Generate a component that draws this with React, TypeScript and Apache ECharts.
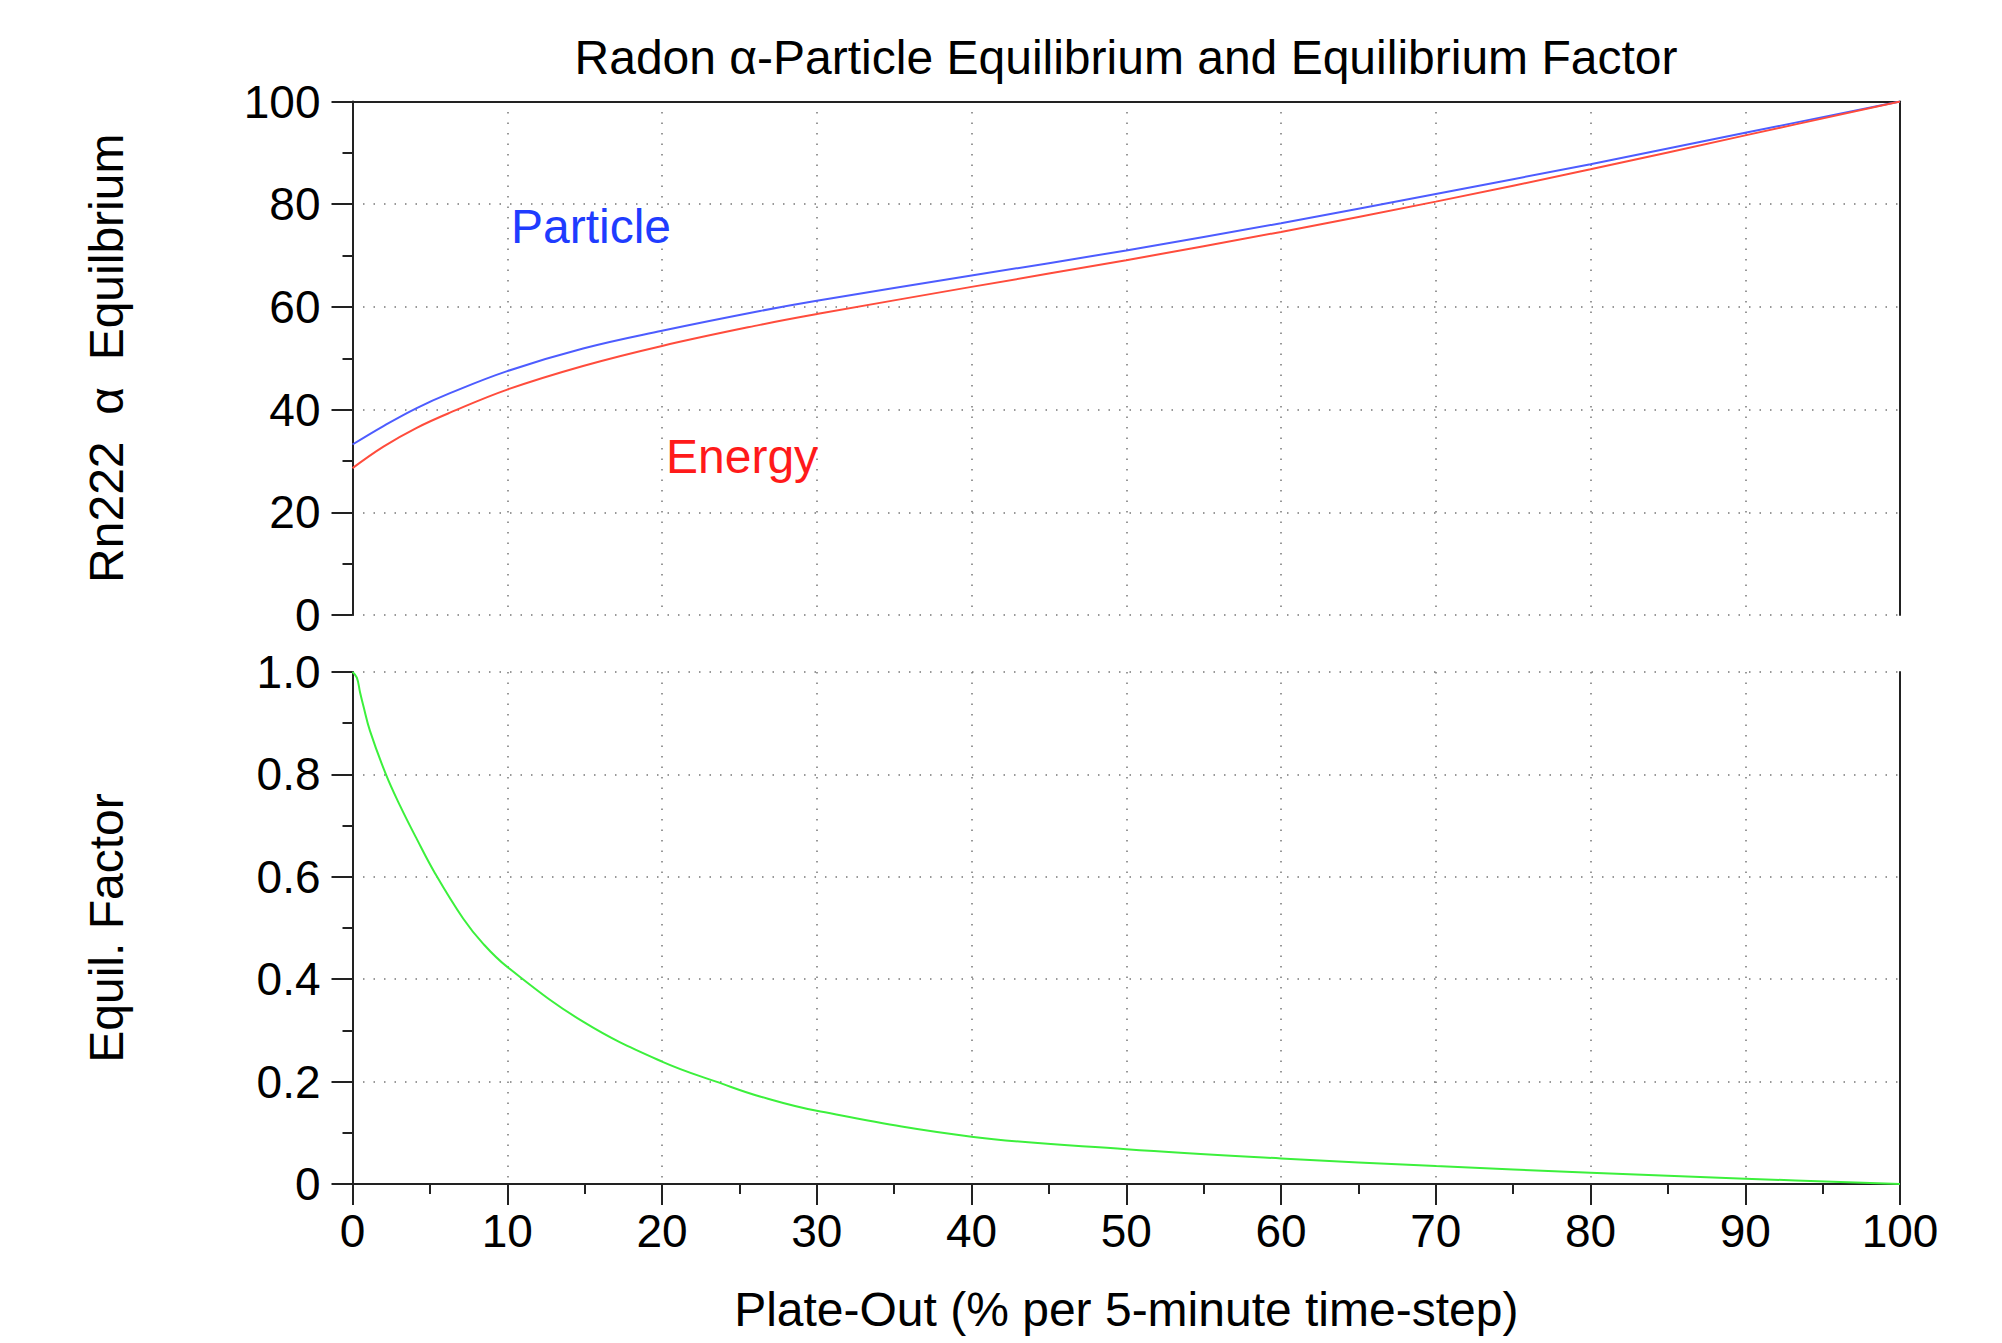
import React, { useEffect, useRef } from "react";
import * as echarts from "echarts";

// Top panel: plate-out (%) vs Rn222 alpha equilibrium (%)
const plateOutTop = [0, 2, 4.15, 6.3, 10, 14.9, 20, 26.33, 30, 40, 50, 60, 70, 80, 90, 100];
const particle = [33.2, 36.8, 40.3, 43.2, 47.5, 51.9, 55.35, 59.2, 61.2, 66.1, 71.0, 76.3, 82.0, 87.8, 93.9, 100];
const energy = [28.6, 32.8, 36.45, 39.4, 43.9, 48.5, 52.4, 56.5, 58.6, 63.9, 69.1, 74.6, 80.5, 86.8, 93.4, 100];

// Bottom panel: plate-out (%) vs equilibrium factor
const plateOutBottom = [0, 0.28, 0.49, 0.7, 1.13, 2.16, 3.07, 4.15, 5.33, 7.16, 8.45, 10, 14.9, 20, 23.96, 26.33, 30, 40, 50, 60, 70, 80, 90, 100];
const equilFactor = [1.0, 0.989, 0.96, 0.934, 0.885, 0.8, 0.739, 0.674, 0.607, 0.518, 0.469, 0.424, 0.317, 0.239, 0.195, 0.171, 0.143, 0.0925, 0.068, 0.05, 0.035, 0.022, 0.0104, 0];

const titleText = "Radon α-Particle Equilibrium and Equilibrium Factor";
const topYName = "Rn222  α  Equilbrium";
const bottomYName = "Equil. Factor";
const xName = "Plate-Out (% per 5-minute time-step)";
const particleLabel = { text: "Particle", x: 10.24, y: 75.6 };
const energyLabel = { text: "Energy", x: 20.26, y: 30.8 };

const FONT = '"Liberation Sans", Arial, Helvetica, sans-serif';
const AX = "#222";
const dotted = { type: [1.5, 9], color: "#777", width: 1.5 };

export default function App() {
  const ref = useRef<HTMLDivElement>(null);
  useEffect(() => {
    if (!ref.current) return;
    const chart = echarts.init(ref.current, null, { renderer: "svg" });
    const zip = (xs: number[], ys: number[]) => xs.map((x, i) => [x, ys[i]]);
    const grids = [
      { left: 352.5, top: 101.5, width: 1547.5, height: 513.5 },
      { left: 352.5, top: 672, width: 1547.5, height: 512 },
    ];
    const hiddenAxisBits = { axisTick: { show: false }, axisLabel: { show: false }, splitLine: { show: false } };
    const option: any = {
      animation: false,
      backgroundColor: "#fff",
      textStyle: { fontFamily: FONT },
      grid: grids,
      graphic: [
        {
          type: "text",
          x: 1126,
          y: 57,
          style: { text: titleText, font: `48px ${FONT}`, textAlign: "center", textVerticalAlign: "middle", fill: "#000" },
        },
      ],
      xAxis: [
        {
          gridIndex: 0, type: "value", min: 0, max: 100, interval: 10, position: "bottom",
          axisLine: { show: false, onZero: false }, axisTick: { show: false }, axisLabel: { show: false },
          splitLine: { show: true, lineStyle: dotted },
        },
        {
          gridIndex: 0, type: "value", min: 0, max: 100, position: "top",
          axisLine: { show: true, onZero: false, lineStyle: { color: AX, width: 2 } }, ...hiddenAxisBits,
        },
        {
          gridIndex: 1, type: "value", min: 0, max: 100, interval: 10, position: "bottom",
          axisLine: { show: true, onZero: false, lineStyle: { color: AX, width: 2 } },
          axisTick: { show: true, inside: false, length: 21, lineStyle: { color: AX, width: 2 } },
          minorTick: { show: true, splitNumber: 2, length: 10, lineStyle: { color: AX, width: 2 } },
          axisLabel: { show: true, fontSize: 46, color: "#000", margin: 24, fontFamily: FONT },
          splitLine: { show: true, lineStyle: dotted },
          name: xName, nameLocation: "middle", nameGap: 101,
          nameTextStyle: { fontSize: 48, color: "#000", fontFamily: FONT },
        },
      ],
      yAxis: [
        {
          gridIndex: 0, type: "value", min: 0, max: 100, interval: 20, position: "left",
          axisLine: { show: true, onZero: false, lineStyle: { color: AX, width: 2 } },
          axisTick: { show: true, inside: false, length: 21, lineStyle: { color: AX, width: 2 } },
          minorTick: { show: true, splitNumber: 2, length: 10, lineStyle: { color: AX, width: 2 } },
          axisLabel: { show: true, fontSize: 46, color: "#000", margin: 32, fontFamily: FONT },
          splitLine: { show: true, lineStyle: dotted },
          name: topYName, nameLocation: "middle", nameRotate: 90, nameGap: 222,
          nameTextStyle: { fontSize: 48, color: "#000", fontFamily: FONT },
        },
        {
          gridIndex: 0, type: "value", min: 0, max: 100, position: "right",
          axisLine: { show: true, onZero: false, lineStyle: { color: AX, width: 2 } }, ...hiddenAxisBits,
        },
        {
          gridIndex: 1, type: "value", min: 0, max: 1, interval: 0.2, position: "left",
          axisLine: { show: true, onZero: false, lineStyle: { color: AX, width: 2 } },
          axisTick: { show: true, inside: false, length: 21, lineStyle: { color: AX, width: 2 } },
          minorTick: { show: true, splitNumber: 2, length: 10, lineStyle: { color: AX, width: 2 } },
          axisLabel: {
            show: true, fontSize: 46, color: "#000", margin: 32, fontFamily: FONT,
            formatter: (v: number) => (v === 0 ? "0" : v.toFixed(1)),
          },
          splitLine: { show: true, lineStyle: dotted },
          name: bottomYName, nameLocation: "middle", nameRotate: 90, nameGap: 222,
          nameTextStyle: { fontSize: 48, color: "#000", fontFamily: FONT },
        },
        {
          gridIndex: 1, type: "value", min: 0, max: 1, position: "right",
          axisLine: { show: true, onZero: false, lineStyle: { color: AX, width: 2 } }, ...hiddenAxisBits,
        },
      ],
      series: [
        {
          name: "Particle", type: "line", xAxisIndex: 0, yAxisIndex: 0,
          data: zip(plateOutTop, particle), showSymbol: false, symbol: "none",
          smooth: 0.4,
          lineStyle: { color: "#4d5cff", width: 2 },
          markPoint: {
            symbol: "circle", symbolSize: 0,
            label: { show: true, position: "right", distance: 0, color: "#1f3cff", fontSize: 48, fontFamily: FONT, formatter: particleLabel.text },
            data: [{ coord: [particleLabel.x, particleLabel.y] }],
          },
        },
        {
          name: "Energy", type: "line", xAxisIndex: 0, yAxisIndex: 0,
          data: zip(plateOutTop, energy), showSymbol: false, symbol: "none",
          smooth: 0.4,
          lineStyle: { color: "#ff4c3c", width: 2 },
          markPoint: {
            symbol: "circle", symbolSize: 0,
            label: { show: true, position: "right", distance: 0, color: "#ff1a1a", fontSize: 48, fontFamily: FONT, formatter: energyLabel.text },
            data: [{ coord: [energyLabel.x, energyLabel.y] }],
          },
        },
        {
          name: "Equil. Factor", type: "line", xAxisIndex: 2, yAxisIndex: 2,
          data: zip(plateOutBottom, equilFactor), showSymbol: false, symbol: "none",
          smooth: 0.4,
          lineStyle: { color: "#3cf03c", width: 2 },
        },
      ],
    };
    chart.setOption(option);
    return () => chart.dispose();
  }, []);
  return (
    <div
      ref={ref}
      style={{ position: "fixed", left: 0, top: 0, width: 2002, height: 1343, background: "#fff" }}
    />
  );
}
